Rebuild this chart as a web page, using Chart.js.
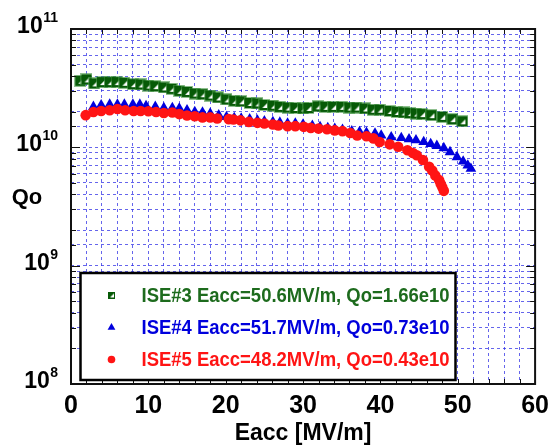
<!DOCTYPE html>
<html>
<head>
<meta charset="utf-8">
<script src="https://cdn.jsdelivr.net/npm/chart.js@4/dist/chart.umd.min.js"></script>
<style>
html,body{margin:0;padding:0;background:#fff;}
canvas{display:block;}
</style>
</head>
<body>
<canvas id="c" width="556" height="447"></canvas>
<script>
// ---- data ----
const ise3X = [1.2,2.0,3.0,4.0,5.0,5.9,6.9,8.0,9.0,10.0,10.9,12.0,13.0,14.0,15.0,16.0,17.0,18.0,19.0,20.1,21.1,22.0,23.1,24.1,25.0,26.1,27.0,28.0,29.0,30.0,30.7,31.9,32.9,33.9,35.0,36.0,36.9,38.0,39.0,39.9,41.2,42.1,43.0,43.8,44.6,45.4,46.6,48.0,49.3,50.6];
const ise3Q = [3.65e10,3.75e10,3.47e10,3.56e10,3.56e10,3.56e10,3.51e10,3.42e10,3.40e10,3.33e10,3.29e10,3.21e10,3.12e10,3.00e10,2.94e10,2.85e10,2.81e10,2.74e10,2.64e10,2.54e10,2.47e10,2.45e10,2.37e10,2.35e10,2.28e10,2.25e10,2.20e10,2.17e10,2.15e10,2.13e10,2.15e10,2.22e10,2.20e10,2.20e10,2.20e10,2.17e10,2.17e10,2.13e10,2.08e10,2.08e10,2.03e10,1.99e10,1.97e10,1.95e10,1.93e10,1.91e10,1.87e10,1.81e10,1.73e10,1.66e10];

const ise4X = [2.9,3.9,5.0,6.0,6.9,8.0,8.9,9.7,10.9,12.0,13.1,14.0,15.0,16.0,17.0,18.0,19.1,20.1,21.1,22.0,23.1,24.1,25.0,26.1,27.0,28.0,29.0,30.0,31.2,32.2,33.2,34.1,35.1,36.3,37.3,38.2,39.3,40.1,41.4,42.7,43.7,44.6,45.6,46.5,47.3,48.2,49.0,49.9,50.7,51.3,51.7];
const ise4Q = [2.20e10,2.27e10,2.30e10,2.30e10,2.30e10,2.30e10,2.30e10,2.24e10,2.20e10,2.15e10,2.15e10,2.13e10,2.06e10,1.99e10,1.97e10,1.93e10,1.87e10,1.81e10,1.77e10,1.75e10,1.73e10,1.69e10,1.66e10,1.64e10,1.62e10,1.59e10,1.59e10,1.56e10,1.52e10,1.49e10,1.46e10,1.44e10,1.41e10,1.37e10,1.35e10,1.33e10,1.31e10,1.26e10,1.22e10,1.20e10,1.17e10,1.15e10,1.11e10,1.07e10,1.03e10,0.986e10,0.912e10,0.828e10,0.761e10,0.703e10,0.66e10];

const ise5X = [1.9,2.9,3.9,5.0,6.0,7.0,8.1,9.0,10.0,11.0,12.0,13.1,14.0,15.0,16.0,17.0,18.0,18.9,20.4,21.0,21.9,23.0,24.1,25.0,26.1,26.8,28.0,29.0,30.1,31.0,32.0,33.1,34.1,35.1,36.1,37.0,38.2,39.1,39.9,41.2,42.3,43.5,44.2,44.7,45.5,46.3,46.7,47.1,47.6,47.8,48.0,48.2];
const ise5Q = [1.87e10,1.99e10,2.03e10,2.06e10,2.11e10,2.06e10,2.03e10,2.03e10,2.02e10,1.99e10,1.95e10,1.97e10,1.91e10,1.86e10,1.83e10,1.79e10,1.79e10,1.75e10,1.73e10,1.72e10,1.69e10,1.64e10,1.61e10,1.59e10,1.56e10,1.53e10,1.51e10,1.51e10,1.49e10,1.46e10,1.44e10,1.42e10,1.39e10,1.37e10,1.32e10,1.26e10,1.24e10,1.19e10,1.11e10,1.06e10,1.01e10,0.944e10,0.896e10,0.856e10,0.781e10,0.686e10,0.638e10,0.579e10,0.528e10,0.489e10,0.461e10,0.429e10];

const seriesLabels = ['ISE#3 Eacc=50.6MV/m, Qo=1.66e10','ISE#4 Eacc=51.7MV/m, Qo=0.73e10','ISE#5 Eacc=48.2MV/m, Qo=0.43e10'];
const xTickLabels = [0,10,20,30,40,50,60];
const yTickExponents = [8,9,10,11];
const xTitle = 'Eacc [MV/m]';
const yTitle = 'Qo';

// ---- styling ----
const FONT = "'Liberation Sans', Arial, Helvetica, sans-serif";
const GREEN = '#075a07', GREEN_TXT = '#1d6b1d', BLUE = '#0000dd', RED = '#ff1414';
const GRID = 'rgba(50,50,230,0.75)';

function makeSquare(size, inset, halo){
  const c = document.createElement('canvas');
  c.width = size; c.height = size;
  const g = c.getContext('2d');
  if(halo){ g.fillStyle = 'rgba(70,150,70,0.6)'; g.fillRect(0,0,size,size); }
  const o = halo ? 1 : 0, s = size - 2*o;
  g.fillStyle = GREEN; g.fillRect(o,o,s,s);
  g.fillStyle = '#fff';
  g.beginPath(); g.moveTo(o+s-inset, o+inset+1); g.lineTo(o+s-inset, o+s-inset); g.lineTo(o+inset+1, o+s-inset); g.closePath(); g.fill();
  return c;
}
const squareBig = makeSquare(12, 2, true);
const squareSmall = makeSquare(7, 1, false);

function pts(xs, ys){ return xs.map((x,i)=>({x:x, y:ys[i]})); }

const framePlugin = {
  id:'frame',
  afterDatasetsDraw(chart){
    const {ctx, chartArea:a, scales} = chart;
    ctx.save();
    ctx.strokeStyle = '#111'; ctx.lineWidth = 1;
    scales.x.ticks.forEach(t=>{
      const px = Math.round(scales.x.getPixelForValue(t.value)) + 0.5;
      ctx.beginPath();
      ctx.moveTo(px, a.bottom); ctx.lineTo(px, a.bottom-5);
      ctx.moveTo(px, a.top); ctx.lineTo(px, a.top+5);
      ctx.stroke();
    });
    scales.y.ticks.forEach(t=>{
      const py = Math.round(scales.y.getPixelForValue(t.value)) + 0.5;
      const major = Math.abs(Math.log10(t.value) - Math.round(Math.log10(t.value))) < 1e-6;
      const len = major ? 9 : 5;
      ctx.beginPath();
      ctx.moveTo(a.left, py); ctx.lineTo(a.left+len, py);
      ctx.moveTo(a.right, py); ctx.lineTo(a.right-len, py);
      ctx.stroke();
    });
    ctx.strokeStyle = '#111'; ctx.lineWidth = 2;
    ctx.strokeRect(a.left, a.top, a.right-a.left, a.bottom-a.top);
    ctx.restore();
  },
  afterDraw(chart){
    const {ctx, scales} = chart;
    ctx.save();
    ctx.fillStyle = '#000';
    ctx.textAlign = 'left'; ctx.textBaseline = 'alphabetic';
    yTickExponents.forEach(e=>{
      const py = scales.y.getPixelForValue(Math.pow(10,e));
      const sup = String(e);
      ctx.font = 'bold 14px ' + FONT;
      const sw = ctx.measureText(sup).width;
      ctx.font = 'bold 23px ' + FONT;
      const bw = ctx.measureText('10').width;
      const right = 58;
      ctx.fillText('10', right - sw - bw - 0.5, py + 4);
      ctx.font = 'bold 14px ' + FONT;
      ctx.fillText(sup, right - sw, py - 7);
    });
    ctx.font = 'bold 22px ' + FONT;
    ctx.textAlign = 'center'; ctx.textBaseline = 'middle';
    ctx.fillText(yTitle, 27, 198);
    // legend box
    const bx = 80.5, by = 273, bw2 = 375, bh = 107;
    ctx.fillStyle = '#fff';
    ctx.fillRect(bx, by, bw2, bh);
    ctx.strokeStyle = '#000'; ctx.lineWidth = 2.5;
    ctx.strokeRect(bx, by, bw2, bh);
    const rows = [295, 327, 359.5];
    const cols = [GREEN_TXT, BLUE, RED];
    rows.forEach((ry,i)=>{
      const mx = 111.5;
      if(i===0){ ctx.drawImage(squareSmall, mx-3.5, ry-3.5); }
      else if(i===1){ Chart.helpers.drawPoint(ctx, {pointStyle:'triangle', radius:4.5, borderWidth:0, rotation:0}, mx, ry+0.5); ctx.fillStyle=BLUE; ctx.fill(); }
      else { ctx.beginPath(); ctx.arc(mx, ry, 3.8, 0, Math.PI*2); ctx.fillStyle=RED; ctx.fill(); }
      ctx.save();
      ctx.font = 'bold 20px ' + FONT;
      ctx.textAlign = 'left'; ctx.textBaseline = 'middle';
      const w = ctx.measureText(seriesLabels[i]).width;
      const k = 308 / w;
      ctx.translate(141.5, ry+1);
      ctx.scale(k, 1);
      ctx.fillStyle = cols[i];
      ctx.fillText(seriesLabels[i], 0, 0);
      ctx.restore();
    });
    ctx.restore();
  }
};

new Chart(document.getElementById('c'), {
  type:'scatter',
  data:{
    datasets:[
      {label:seriesLabels[0], data:pts(ise3X, ise3Q), pointStyle:squareBig, order:3},
      {label:seriesLabels[1], data:pts(ise4X, ise4Q), pointStyle:'triangle', pointRadius:6.2, backgroundColor:BLUE, borderColor:BLUE, borderWidth:0, order:2},
      {label:seriesLabels[2], data:pts(ise5X, ise5Q), pointStyle:'circle', pointRadius:5.3, backgroundColor:RED, borderColor:RED, borderWidth:0, order:1}
    ]
  },
  options:{
    responsive:false, animation:false, devicePixelRatio:1,
    layout:{padding:{top:29, right:16, left:0, bottom:0}},
    plugins:{legend:{display:false}, tooltip:{enabled:false}},
    scales:{
      x:{
        type:'linear', min:0, max:60,
        afterFit(s){ s.height = 63; },
        grid:{color:GRID, lineWidth:1, drawTicks:false},
        border:{display:false, dash:[3,3]},
        ticks:{
          stepSize:2, autoSkip:false, maxRotation:0, padding:7, color:'#000',
          font:{family:FONT, size:25, weight:'bold'},
          callback:(v)=> xTickLabels.includes(v) ? String(v) : ''
        },
        title:{display:true, text:xTitle, color:'#000', padding:{top:0,bottom:0},
          font:{family:FONT, size:23, weight:'bold'}}
      },
      y:{
        type:'logarithmic', min:1e8, max:1e11,
        afterFit(s){ s.width = 71; },
        grid:{color:GRID, lineWidth:1, drawTicks:false},
        border:{display:false, dash:[3,3]},
        ticks:{display:false, autoSkip:false}
      }
    }
  },
  plugins:[framePlugin]
});
</script>
</body>
</html>
